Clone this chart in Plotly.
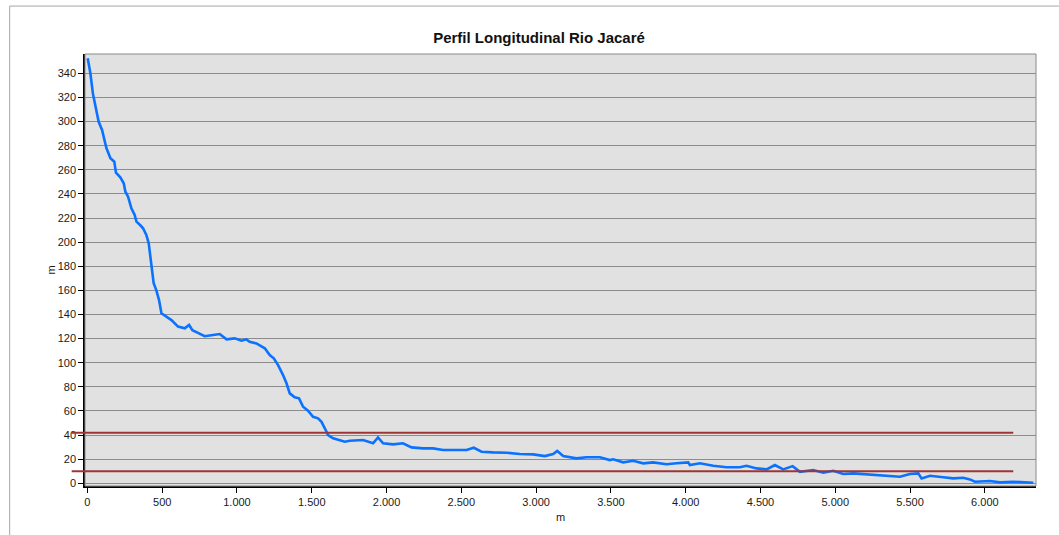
import plotly.graph_objects as go

# Longitudinal profile of the river: distance along the channel (m) and elevation (m)
distance_m = [
    2, 20, 37, 55, 75, 98, 113, 127, 154, 180, 191, 220, 243, 254, 272, 294, 316, 328,
    354, 372, 394, 410, 421, 432, 443, 461, 479, 495, 528, 562, 606, 651, 680, 702, 746,
    784, 840, 885, 930, 985, 1030, 1063, 1085, 1130, 1186, 1219, 1246, 1275, 1308, 1331,
    1353, 1386, 1415, 1442, 1475, 1509, 1542, 1565, 1598, 1609, 1643, 1687, 1721, 1754,
    1843, 1910, 1943, 1977, 2044, 2110, 2167, 2244, 2311, 2378, 2445, 2535, 2583, 2635,
    2712, 2802, 2891, 2980, 3058, 3114, 3141, 3181, 3270, 3337, 3426, 3493, 3515, 3582,
    3649, 3716, 3782, 3872, 3939, 4017, 4028, 4095, 4184, 4273, 4362, 4407, 4474, 4541,
    4596, 4652, 4715, 4764, 4853, 4920, 4986, 5053, 5120, 5210, 5321, 5432, 5499, 5555,
    5577, 5633, 5722, 5789, 5856, 5900, 5934, 6034, 6101, 6190, 6324,
]
elevation_m = [
    352.5, 340, 323, 312, 300, 293, 286, 278, 269.5, 266.7, 257.6, 253.8, 248.8, 241.8,
    237.7, 228, 222.5, 217, 214, 211.5, 206, 199, 188, 177, 166, 160, 152, 141, 138,
    135.4, 130, 128.5, 131.3, 127, 124.4, 122, 123, 123.8, 119.4, 120.2, 118.3, 119.4,
    117.4, 116, 112, 106.4, 103.7, 98, 89.8, 83, 74.6, 71.3, 70.5, 63.5, 60.2, 55.2,
    53.9, 51, 43, 40, 37.3, 35.9, 34.5, 35.3, 35.9, 33.2, 38.1, 33.2, 32.3, 33.2, 29.8,
    29, 29, 27.6, 27.6, 27.6, 29.5, 26.2, 25.7, 25.4, 24.3, 24, 22.6, 24.3, 26.8, 22.6,
    20.7, 21.6, 21.6, 19.3, 19.9, 17.4, 18.7, 16.6, 17.4, 15.8, 16.6, 17.4, 15.2, 16.6,
    14.6, 13.3, 13.3, 14.6, 12.4, 11.6, 15.2, 11.6, 14.3, 9.6, 11, 8.8, 10.4, 7.7, 8.3,
    7.5, 6.9, 5.5, 7.7, 8.3, 4.1, 6.3, 5, 4.1, 4.6, 3.3, 1.3, 1.9, 0.8, 1.3, 0.5,
]

# Reference levels drawn as horizontal lines, and where they stop along the profile
reference_levels = [42, 10]
reference_end_m = 6190

x_ticks = list(range(0, 6001, 500))
y_ticks = list(range(0, 341, 20))

X_RANGE = [-16, 6342]
Y_RANGE = [-2.2, 356]


def x_to_paper(v):
    return (v - X_RANGE[0]) / (X_RANGE[1] - X_RANGE[0])


FONT = "Liberation Sans, Arial, sans-serif"

fig = go.Figure()
fig.add_trace(go.Scatter(
    x=distance_m, y=elevation_m, mode="lines",
    line=dict(color="#0a72ff", width=2.6),
    showlegend=False, hoverinfo="x+y",
))

shapes = [
    # outer chart frame
    dict(type="rect", xref="paper", yref="paper", x0=-0.0792, x1=1.2, y0=-1, y1=1.111,
         line=dict(color="#a6a6a6", width=1), fillcolor="rgba(0,0,0,0)", layer="below"),
    # plot-area border (top / right)
    dict(type="rect", xref="paper", yref="paper", x0=0, x1=1, y0=0, y1=1,
         line=dict(color="#8a8a8a", width=1), fillcolor="rgba(0,0,0,0)", layer="above"),
]
for lvl in reference_levels:
    shapes.append(dict(
        type="line", xref="paper", yref="y", x0=-0.014, x1=x_to_paper(reference_end_m),
        y0=lvl, y1=lvl, line=dict(color="#9e3535", width=2), layer="above",
    ))

fig.update_layout(
    width=1059, height=535,
    margin=dict(l=85, r=23, t=54, b=49, pad=0),
    paper_bgcolor="white",
    plot_bgcolor="#e1e1e1",
    separators=",.",
    font=dict(family=FONT, size=11, color="#1a1a1a"),
    title=dict(text="<b>Perfil Longitudinal Rio Jacaré</b>", x=539 / 1059, xref="container",
               y=1 - 38 / 535, yanchor="middle", xanchor="center",
               font=dict(family=FONT, size=15, color="#111")),
    shapes=shapes,
    showlegend=False,
)
fig.update_xaxes(
    range=X_RANGE, tickvals=x_ticks, tickformat=",d",
    showgrid=False, zeroline=False,
    showline=True, linecolor="#000", linewidth=1.5,
    ticks="outside", ticklen=5, tickcolor="#000", tickwidth=1,
    title=dict(text="m", standoff=6, font=dict(size=11)),
)
fig.update_yaxes(
    range=Y_RANGE, tickvals=y_ticks,
    showgrid=True, gridcolor="#8c8c8c", gridwidth=1, zeroline=False,
    showline=True, linecolor="#000", linewidth=1.5,
    ticks="outside", ticklen=5, tickcolor="#000", tickwidth=1,
    title=dict(text="m", standoff=0, font=dict(size=11)),
)

fig.write_html("out.html")
